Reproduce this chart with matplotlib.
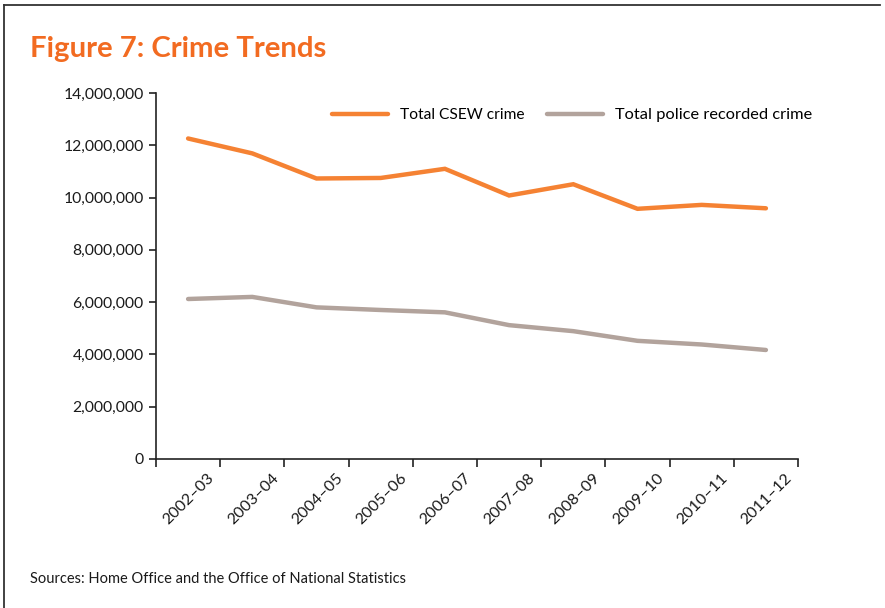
import matplotlib
matplotlib.use('Agg')
import matplotlib.pyplot as plt
from matplotlib.lines import Line2D
from matplotlib.ticker import FuncFormatter, FixedLocator, NullFormatter
import matplotlib.transforms as mtransforms
import numpy as np

plt.rcParams['font.family'] = ['Lato', 'DejaVu Sans']

years = ['2002–03', '2003–04', '2004–05', '2005–06', '2006–07',
         '2007–08', '2008–09', '2009–10', '2010–11', '2011–12']
csew_crime = [12260000, 11690000, 10730000, 10750000, 11100000,
              10080000, 10510000, 9570000, 9720000, 9590000]
police_crime = [6120000, 6200000, 5800000, 5700000, 5610000,
                5120000, 4890000, 4520000, 4380000, 4170000]
y_ticks = [0, 2000000, 4000000, 6000000, 8000000, 10000000, 12000000, 14000000]

orange = '#F58233'
taupe = '#B2A39C'

W, H = 885, 608
fig = plt.figure(figsize=(W / 100, H / 100), dpi=100)
fig.patch.set_facecolor('white')

ax = fig.add_axes([156 / W, 1 - 459 / H, (798 - 156) / W, (459 - 93) / H])
x = np.arange(len(years))
ax.plot(x, csew_crime, color=orange, lw=3.2, solid_capstyle='round',
        solid_joinstyle='miter', label='Total CSEW crime')
ax.plot(x, police_crime, color=taupe, lw=3.2, solid_capstyle='round',
        solid_joinstyle='miter', label='Total police recorded crime')

ax.set_xlim(-0.5, len(years) - 0.5)
ax.set_ylim(0, 14000000)
ax.set_yticks(y_ticks)
ax.yaxis.set_major_formatter(FuncFormatter(lambda v, p: f'{int(v):,}'))

# ticks sit between categories, labels at the category centres
ax.xaxis.set_major_locator(FixedLocator(np.arange(-0.5, len(years), 1.0)))
ax.xaxis.set_major_formatter(NullFormatter())
ax.xaxis.set_minor_locator(FixedLocator(x))
ax.set_xticklabels(years, minor=True)
ax.tick_params(axis='x', which='minor', length=0, pad=0)
ax.tick_params(axis='x', which='major', length=6, width=1.2, color='#222222')
ax.tick_params(axis='y', length=5, width=1.2, color='#222222', pad=4,
               labelsize=11.3, labelcolor='#1a1a1a')
offset = mtransforms.ScaledTranslation(19 / 100, -12 / 100, fig.dpi_scale_trans)
for lab in ax.get_xticklabels(minor=True):
    lab.set_rotation(45)
    lab.set_ha('right')
    lab.set_va('top')
    lab.set_rotation_mode('anchor')
    lab.set_fontsize(11.5)
    lab.set_color('#1a1a1a')
    lab.set_transform(lab.get_transform() + offset)

for side in ['top', 'right']:
    ax.spines[side].set_visible(False)
for side in ['left', 'bottom']:
    ax.spines[side].set_color('#222222')
    ax.spines[side].set_linewidth(1.2)

ax.legend(loc='center left', bbox_to_anchor=((332 - 156) / 642, (459 - 115) / 366),
          ncol=2, frameon=False, borderpad=0, borderaxespad=0,
          fontsize=11.2, handlelength=3.6, handletextpad=0.8, columnspacing=1.4)
for t in ax.get_legend().get_texts()[1:]:
    t.set_fontsize(11.8)

fig.text(30 / W, 1 - 57 / H, 'Figure 7: Crime Trends', color='#F26B21',
         fontsize=21.2, fontweight='bold', ha='left', va='baseline')
fig.text(30 / W, 1 - 583 / H, 'Sources: Home Office and the Office of National Statistics',
         color='#1a1a1a', fontsize=10.5, ha='left', va='baseline')

# box lines along the top and left edge
fig.add_artist(Line2D([4 / W, 880 / W], [1 - 5 / H, 1 - 5 / H], color='#333333', lw=1.3))
fig.add_artist(Line2D([4 / W, 4 / W], [0, 1 - 5 / H], color='#333333', lw=1.3))

fig.savefig('out.png', dpi=100, facecolor='white')
